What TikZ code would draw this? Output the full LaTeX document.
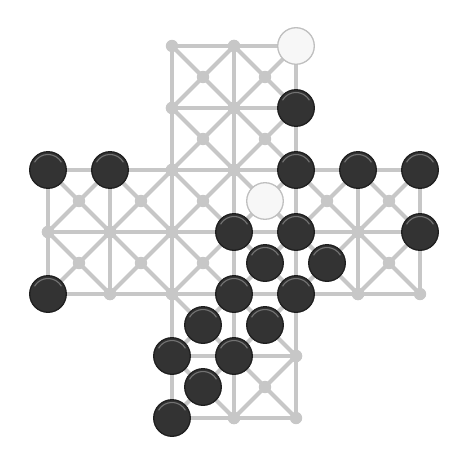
\documentclass[tikz,border=0pt]{standalone}
\usepackage{tikz}
\usetikzlibrary{calc}

\tikzset{
  boardline/.style={draw=black!22, line width=1.8pt},
  boarddot/.style={fill=black!22},
  blackstone/.style={fill=black!80, draw=black!88, line width=0.6pt},
  whitestone/.style={fill=white!97!black, draw=black!25, line width=0.6pt},
}

\begin{document}
\begin{tikzpicture}

% Fix the page size
\useasboundingbox (-0.774,-0.694) rectangle (6.774,6.742);

% Squares of the cross (lower left corners)
\def\squares{2/0, 3/0, 2/1, 3/1,
             0/2, 1/2, 2/2, 3/2, 4/2, 5/2,
             0/3, 1/3, 2/3, 3/3, 4/3, 5/3,
             2/4, 3/4, 2/5, 3/5}

% Board lines with diagonals
\foreach \x/\y in \squares {
    \draw[boardline] (\x,\y) rectangle ++(1,1);
    \draw[boardline] (\x,\y) -- ++(1,1);
    \draw[boardline] (\x+1,\y) -- ++(-1,1);
}

% Points of the board
\foreach \x/\y in \squares {
    \fill[boarddot] (\x,\y) circle (0.1);
    \fill[boarddot] (\x+1,\y) circle (0.1);
    \fill[boarddot] (\x,\y+1) circle (0.1);
    \fill[boarddot] (\x+1,\y+1) circle (0.1);
    \fill[boarddot] (\x+0.5,\y+0.5) circle (0.1);
}

% Black stones
\foreach \x/\y in {4/5, 0/4, 1/4, 4/4, 5/4, 6/4,
                   3/3, 4/3, 6/3, 3.5/2.5, 4.5/2.5,
                   0/2, 3/2, 4/2, 2.5/1.5, 3.5/1.5,
                   2/1, 3/1, 2.5/0.5, 2/0} {
    \filldraw[blackstone] (\x,\y) circle (0.295);
    \draw[black!55, line width=0.5pt] ($(\x,\y)+(150:0.25)$) arc (150:30:0.25);
}

% White stones
\foreach \x/\y in {4/6, 3.5/3.5} {
    \filldraw[whitestone] (\x,\y) circle (0.295);
}

\end{tikzpicture}
\end{document}
